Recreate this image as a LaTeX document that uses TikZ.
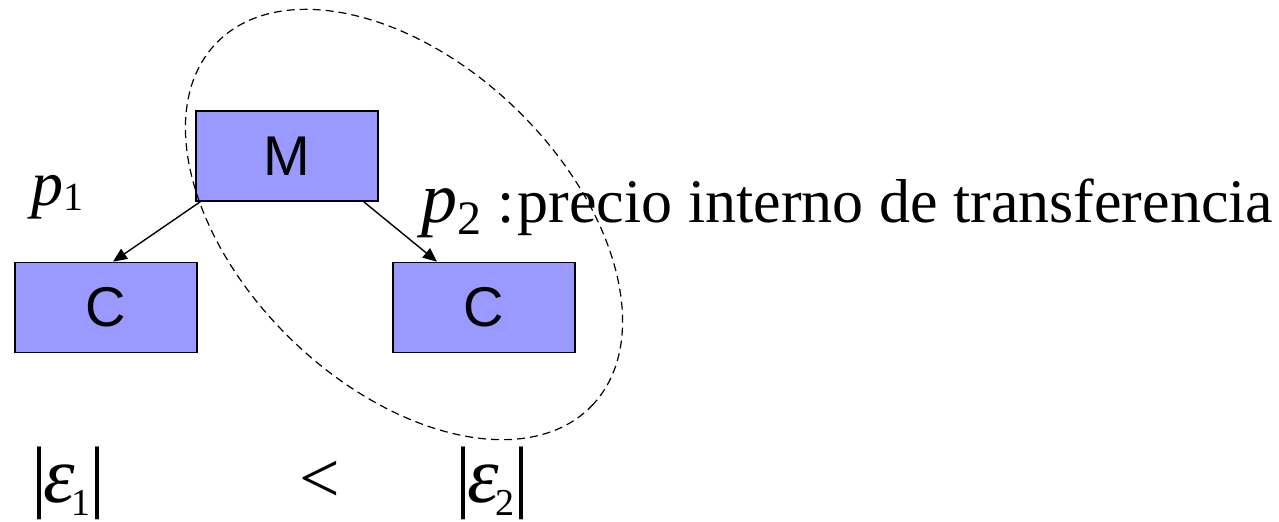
\documentclass[tikz,border=0pt]{standalone}
\usepackage{fontspec}
\setmainfont{Liberation Serif}
\newfontfamily\boxfont{Liberation Sans}
\usetikzlibrary{arrows.meta}
\definecolor{boxfill}{RGB}{153,153,255}
% |epsilon_i| with big bars
\newcommand\absel[1]{{\fontsize{40}{40}\selectfont|\kern-2pt\textit{ε}}\kern-1.5pt\raisebox{-6.5pt}{\fontsize{19}{19}\selectfont #1}\kern-0.5pt{\fontsize{40}{40}\selectfont|}}

\begin{document}
\begin{tikzpicture}[x=0.5pt,y=0.5pt,
  unit/.style={draw=black,line width=0.8pt,fill=boxfill,minimum width=91pt,minimum height=45pt,inner sep=0pt,font=\boxfont\fontsize{28}{28}\selectfont},
  link/.style={-{Triangle[length=7pt,width=6pt]},line width=0.7pt},
  lbl/.style={inner sep=0pt,anchor=base west}]
  \useasboundingbox (0,0) rectangle (1279,521);
  \node[unit] (M) at (287,365) {M};
  \node[unit] (C1) at (106,213.5) {C};
  \node[unit] (C2) at (484,213.5) {C};
  \draw[link] ([xshift=2.5pt]M.south west) -- ([xshift=3.5pt]C1.north);
  \draw[link] ([xshift=-7.5pt]M.south east) -- ([xshift=-23.5pt]C2.north);
  \draw[dash pattern=on 4pt off 2.5pt,line width=0.6pt,shift={(404,296.5)},rotate=-44] (0,0) ellipse [x radius=261,y radius=161];
  % labels
  \node[lbl] (p1) at (31,316) {{\fontsize{32}{32}\selectfont\textit{p}}\raisebox{-2.5pt}{\fontsize{20}{20}\selectfont 1}};
  \node[lbl,font=\fontsize{31}{31}\selectfont] (p2) at (421,299) {{\fontsize{36}{36}\selectfont\textit{p}}\raisebox{-6pt}{\fontsize{24}{24}\selectfont 2}\hspace{8pt}:\hspace{1.5pt}precio interno de transferencia};
  \node[lbl] (e1) at (31,19) {\absel{1}};
  \node[inner sep=0pt,anchor=base,font=\fontsize{36}{36}\selectfont] (lt) at (320,19) {<};
  \node[lbl] (e2) at (455,19) {\absel{2}};
\end{tikzpicture}
\end{document}
